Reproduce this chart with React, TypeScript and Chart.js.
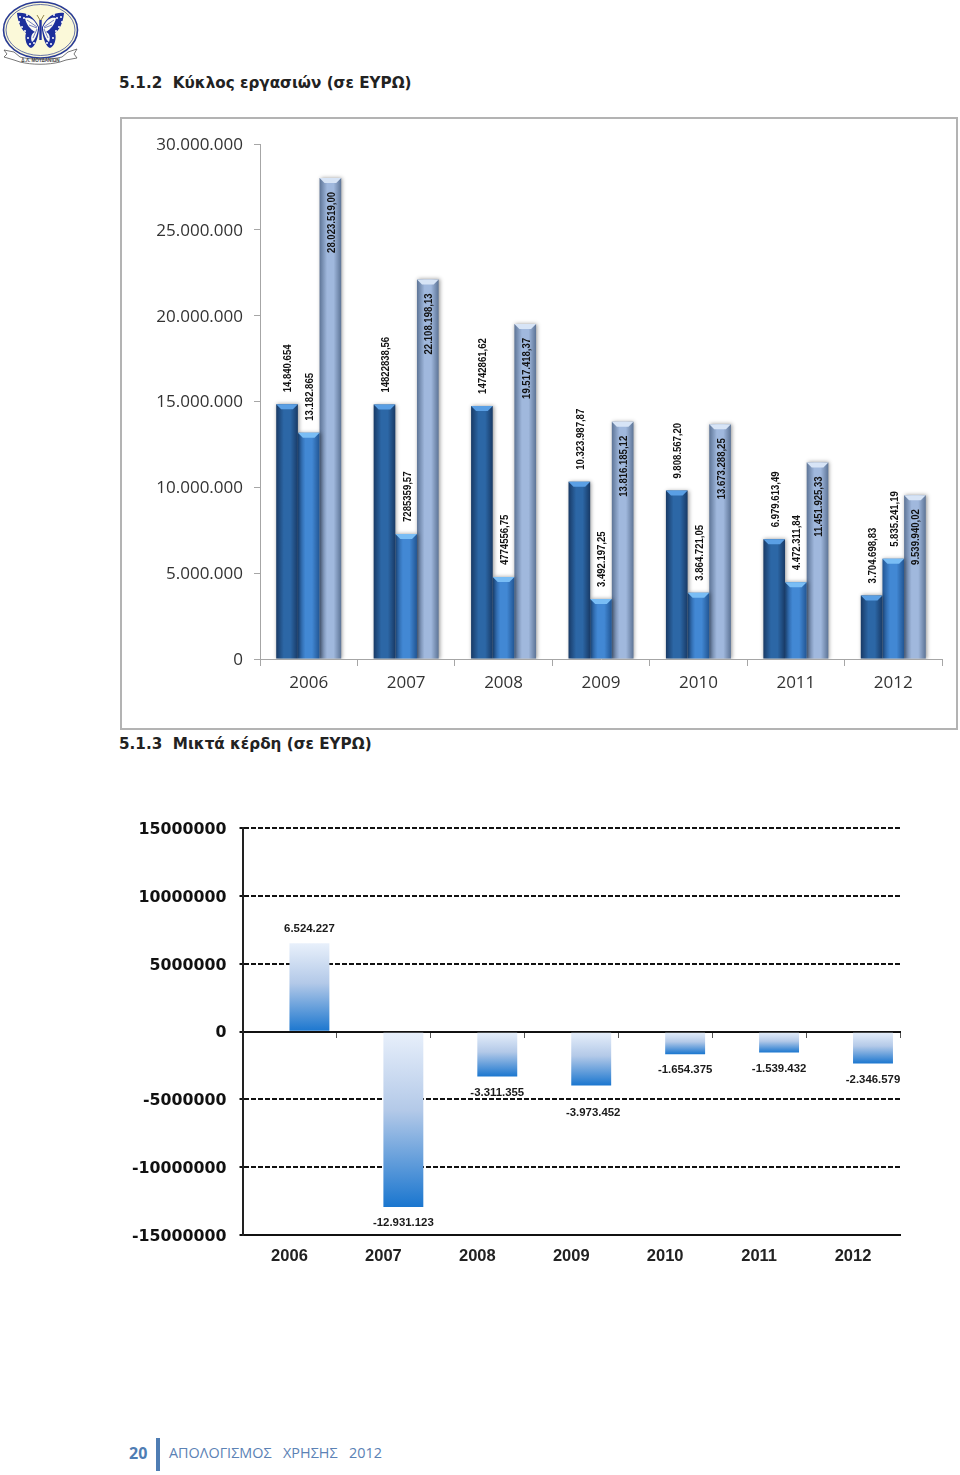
import React, { useEffect, useRef } from "react";
import { Chart, registerables } from "chart.js";

Chart.register(...registerables);

const years = ["2006", "2007", "2008", "2009", "2010", "2011", "2012"];

const turnoverA = [14840654, 14822838.56, 14742861.62, 10323987.87, 9808567.2, 6979613.49, 3704698.83];
const turnoverB = [13182865, 7285359.57, 4774556.75, 3492197.25, 3864721.05, 4472311.84, 5835241.19];
const turnoverC = [28023519, 22108198.13, 19517418.37, 13816185.12, 13673288.25, 11451925.33, 9539940.02];

const turnoverLabelsA = ["14.840.654", "14822838,56", "14742861,62", "10.323.987,87", "9.808.567,20", "6.979.613,49", "3.704.698,83"];
const turnoverLabelsB = ["13.182.865", "7285359,57", "4774556,75", "3.492.197,25", "3.864.721,05", "4.472.311,84", "5.835.241,19"];
const turnoverLabelsC = ["28.023.519,00", "22.108.198,13", "19.517.418,37", "13.816.185,12", "13.673.288,25", "11.451.925,33", "9.539.940,02"];

const turnoverTicks = ["0", "5.000.000", "10.000.000", "15.000.000", "20.000.000", "25.000.000", "30.000.000"];

const profitEmpty = [null, null, null, null, null, null, null];
const profit = [6524227, -12931123, -3311355, -3973452, -1654375, -1539432, -2346579];
const profitLabels = ["6.524.227", "-12.931.123", "-3.311.355", "-3.973.452", "-1.654.375", "-1.539.432", "-2.346.579"];

const BAR_SHARE = 0.667;
const palettes = [
  { edge: "#183a66", mid: "#2c67a6", bevel: "#5a9fe4" },
  { edge: "#215593", mid: "#4288d4", bevel: "#79bdf5" },
  { edge: "#5d7496", mid: "#a0b8dd", bevel: "#d7e4f6" },
];

const turnoverPlugin = {
  id: "turnoverDecor",
  beforeDatasetsDraw(chart: any) {
    const c = chart.ctx;
    c.save();
    c.shadowColor = "rgba(0,0,0,0.4)";
    c.shadowBlur = 4;
    c.shadowOffsetX = 1;
  },
  afterDatasetsDraw(chart: any) {
    const c = chart.ctx;
    c.restore();
    const texts = [turnoverLabelsA, turnoverLabelsB, turnoverLabelsC];
    chart.data.datasets.forEach((_: any, d: number) => {
      chart.getDatasetMeta(d).data.forEach((bar: any, i: number) => {
        const l = bar.x - bar.width / 2;
        const r = bar.x + bar.width / 2;
        c.fillStyle = palettes[d].bevel;
        c.beginPath();
        c.moveTo(l, bar.y);
        c.lineTo(r, bar.y);
        c.lineTo(r - 5, bar.y + 5);
        c.lineTo(l + 5, bar.y + 5);
        c.closePath();
        c.fill();
        c.save();
        c.fillStyle = "#111";
        c.font = "bold 10.6px 'Liberation Sans'";
        c.textBaseline = "middle";
        if (d === 2) {
          c.translate(bar.x + 1.5, bar.y + 14);
          c.rotate(-Math.PI / 2);
          c.scale(0.9, 1);
          c.textAlign = "right";
        } else {
          c.translate(bar.x + 1.5, bar.y - 12);
          c.rotate(-Math.PI / 2);
          c.scale(0.9, 1);
          c.textAlign = "left";
        }
        c.fillText(texts[d][i], 0, 0);
        c.restore();
      });
    });
  },
};

const profitPlugin = {
  id: "profitLabels",
  afterDatasetsDraw(chart: any) {
    const c = chart.ctx;
    c.save();
    c.fillStyle = "#1a1a1a";
    c.font = "bold 11.4px 'Liberation Sans'";
    c.textAlign = "center";
    c.textBaseline = "middle";
    chart.getDatasetMeta(1).data.forEach((bar: any, i: number) => {
      const up = profit[i] > 0;
      const extra = profitLabels[i] === "-3.973.452" ? 11 : 0;
      c.fillText(profitLabels[i], bar.x + (extra ? 2 : 0), up ? bar.y - 14 : bar.y + 16 + extra);
    });
    c.restore();
  },
};

function barFill(ctx: any) {
  const chart = ctx.chart;
  const d = ctx.datasetIndex;
  const x = chart.scales?.x;
  if (!x || !chart.chartArea) return palettes[d].mid;
  const slot = x.width / years.length;
  const w = (slot * BAR_SHARE) / 3;
  const left = x.getPixelForTick(ctx.dataIndex) - 1.5 * w + d * w;
  const g = chart.ctx.createLinearGradient(left, 0, left + w, 0);
  g.addColorStop(0, palettes[d].edge);
  g.addColorStop(0.35, palettes[d].mid);
  g.addColorStop(0.65, palettes[d].mid);
  g.addColorStop(1, palettes[d].edge);
  return g;
}

function profitFill(ctx: any) {
  const chart = ctx.chart;
  const y = chart.scales?.y;
  if (!y || !chart.chartArea) return "#7aa6dc";
  const value = profit[ctx.dataIndex];
  const a = y.getPixelForValue(Math.max(value, 0));
  const b = y.getPixelForValue(Math.min(value, 0));
  const g = chart.ctx.createLinearGradient(0, a, 0, b);
  g.addColorStop(0, "#e8f0fb");
  g.addColorStop(0.45, "#b3c9e8");
  g.addColorStop(1, "#1a76cf");
  return g;
}

function TurnoverChart() {
  const ref = useRef<HTMLCanvasElement>(null);
  useEffect(() => {
    const chart = new Chart(ref.current!, {
      type: "bar",
      data: {
        labels: years,
        datasets: [
          { label: "A", data: turnoverA, backgroundColor: barFill },
          { label: "B", data: turnoverB, backgroundColor: barFill },
          { label: "C", data: turnoverC, backgroundColor: barFill },
        ],
      } as any,
      options: {
        animation: false,
        responsive: false,
        layout: { padding: { top: 25, right: 14, left: 0, bottom: 0 } },
        plugins: { legend: { display: false }, tooltip: { enabled: false }, title: { display: false } },
        datasets: { bar: { categoryPercentage: BAR_SHARE, barPercentage: 1 } },
        scales: {
          x: {
            afterFit: (s: any) => { s.height = 69; },
            border: { color: "#a6a6a6", width: 1 },
            grid: { drawOnChartArea: false, drawTicks: true, tickLength: 7, color: "#a6a6a6", offset: true },
            ticks: { color: "#333", font: { family: "'Open Sans'", size: 17 }, padding: 7, maxRotation: 0 },
          },
          y: {
            min: 0,
            max: 30000000,
            afterFit: (s: any) => { s.width = 138; },
            border: { color: "#a6a6a6", width: 1 },
            grid: { drawOnChartArea: false, drawTicks: true, tickLength: 6, color: "#a6a6a6" },
            ticks: {
              stepSize: 5000000,
              color: "#333",
              padding: 11,
              labelOffset: 1,
              font: { family: "'Open Sans'", size: 17 },
              callback: (_: any, i: number) => turnoverTicks[i],
            },
          },
        },
      } as any,
      plugins: [turnoverPlugin],
    });
    return () => chart.destroy();
  }, []);
  return <canvas ref={ref} width={834} height={609} style={{ display: "block" }} />;
}

function ProfitChart() {
  const ref = useRef<HTMLCanvasElement>(null);
  useEffect(() => {
    const chart = new Chart(ref.current!, {
      type: "bar",
      data: {
        labels: years,
        datasets: [
          { label: "", data: profitEmpty, backgroundColor: "transparent" },
          { label: "Μικτά κέρδη", data: profit, backgroundColor: profitFill, borderWidth: 0 },
        ],
      } as any,
      options: {
        animation: false,
        responsive: false,
        layout: { padding: { top: 13.5, right: 20, left: 0, bottom: 0 } },
        plugins: { legend: { display: false }, tooltip: { enabled: false }, title: { display: false } },
        datasets: { bar: { categoryPercentage: 0.85, barPercentage: 1 } },
        scales: {
          x: {
            afterFit: (s: any) => { s.height = 45; },
            border: { color: "#111", width: 2 },
            grid: { display: false },
            ticks: { color: "#222", font: { family: "'Liberation Sans'", size: 16.5, weight: "bold" }, padding: 4, maxRotation: 0 },
          },
          x2: {
            type: "category",
            labels: years,
            position: { y: 0 },
            border: { color: "#111", width: 2 },
            grid: { drawOnChartArea: false, drawTicks: true, tickLength: 5, color: "#555", offset: true },
            ticks: { display: false },
          },
          y: {
            min: -15000000,
            max: 15000000,
            afterFit: (s: any) => { s.width = 122.5; },
            border: { color: "#222", width: 2, dash: [5, 2] },
            grid: { color: "#111", lineWidth: 2, tickLength: 3 },
            ticks: {
              stepSize: 5000000,
              color: "#111",
              padding: 13,
              labelOffset: 1.5,
              font: { family: "'DejaVu Sans'", size: 15.8, weight: "bold" },
              callback: (v: any) => String(v),
            },
          },
        },
      } as any,
      plugins: [profitPlugin],
    });
    return () => chart.destroy();
  }, []);
  return <canvas ref={ref} width={800} height={474} style={{ display: "block" }} />;
}

function Wing() {
  const blue = "#1c2f9c";
  const dots: [number, number][] = [[20, 17], [19, 22], [22, 27], [25, 31], [24, 18], [28, 38], [30, 44], [34, 43], [27, 15]];
  return (
    <g>
      <path d="M39 27 C33 15 25 12 17 13 C18 24 22 30 26 33 C24 39 27 47 31 48 C35 47 38 38 39 30 Z" fill={blue} />
      <path d="M38 27 C34 19 30 17 25 18 C26 24 30 29 35 32 C32 33 30 37 32 42 C35 40 37 35 38 29 Z" fill="#fbfbf2" />
      <path d="M37 27 L27 20 M37 28 L29 25 M37 29 L33 38" stroke={blue} strokeWidth={0.6} />
      {dots.map(([x, y], i) => <circle key={i} cx={x} cy={y} r={1} fill="#fff" />)}
    </g>
  );
}

function Logo() {
  return (
    <svg width={82} height={66} viewBox="0 0 82 66" style={{ position: "absolute", left: 0, top: 0 }}>
      <ellipse cx={40.5} cy={30} rx={37} ry={28} fill="#fbf9d9" stroke="#2a3c94" strokeWidth={1.6} />
      <ellipse cx={40.5} cy={30} rx={34.5} ry={25.5} fill="none" stroke="#2a3c94" strokeWidth={0.7} />
      <Wing />
      <g transform="translate(81 0) scale(-1 1)"><Wing /></g>
      <path d="M40.5 20 L40.5 40" stroke="#1c2f9c" strokeWidth={2.4} />
      <path d="M40 20 L37 15 M41 20 L44 15" stroke="#7a6a2a" strokeWidth={0.8} />
      <path d="M4 50 L14 52 L20 57 C32 60 50 60 62 57 L68 52 L77 49 L74 54 L77 58 L66 60 L60 62 C48 65 32 65 20 62 L14 60 L4 57 L7 54 Z" fill="#fff" stroke="#555" strokeWidth={0.8} />
      <text x={40.5} y={61.5} textAnchor="middle" fontFamily="'Liberation Sans'" fontSize={4.6} fontWeight="bold" fill="#444">Δ.Λ. ΜΟΥΔΑΝΙΩΝ</text>
    </svg>
  );
}

const abs = (left: number, top: number): React.CSSProperties => ({ position: "absolute", left, top, whiteSpace: "pre" });

export default function App() {
  return (
    <div style={{ position: "absolute", left: 0, top: 0, width: 960, height: 1475, background: "#fff", overflow: "hidden" }}>
      <Logo />
      <div style={{ ...abs(119, 74), font: "bold 15.2px 'DejaVu Sans'", color: "#222" }}>5.1.2  Κύκλος εργασιών (σε ΕΥΡΩ)</div>
      <div style={{ position: "absolute", left: 120, top: 117, width: 834, height: 609, border: "2px solid #b3b3b3" }}>
        <TurnoverChart />
      </div>
      <div style={{ ...abs(119, 735), font: "bold 15.2px 'DejaVu Sans'", color: "#222" }}>5.1.3  Μικτά κέρδη (σε ΕΥΡΩ)</div>
      <div style={{ position: "absolute", left: 120, top: 806 }}>
        <ProfitChart />
      </div>
      <div style={{ ...abs(129, 1442), font: "bold 16px 'Open Sans'", color: "#4f7db3" }}>20</div>
      <div style={{ position: "absolute", left: 156, top: 1438, width: 4, height: 33, background: "#4f7db3" }} />
      <div style={{ ...abs(169, 1443), font: "14.4px 'Open Sans'", wordSpacing: 2, color: "#5b82b5" }}>ΑΠΟΛΟΓΙΣΜΟΣ  ΧΡΗΣΗΣ  2012</div>
    </div>
  );
}
